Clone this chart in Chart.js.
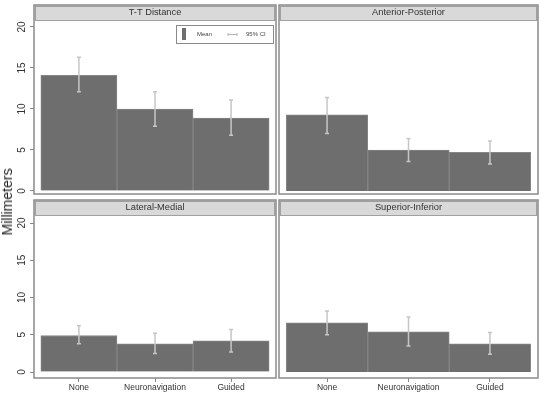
<!DOCTYPE html>
<html>
<head>
<meta charset="utf-8">
<title>Millimeters by guidance method</title>
<script src="https://cdn.jsdelivr.net/npm/chart.js@4.4.0/dist/chart.umd.min.js"></script>
<style>
  body { margin: 0; background: #fff; }
  #wrap { position: relative; width: 543px; height: 402px; overflow: hidden; background: #fff; }
  #wrap canvas { position: absolute; left: 0; top: 0; }
  #ytitle {
    position: absolute; left: 7px; top: 202px;
    transform: translate(-50%, -50%) rotate(-90deg);
    font: 14px "Liberation Sans", Arial, sans-serif; color: #222; white-space: nowrap;
  }
</style>
</head>
<body>
<div id="wrap">
  <canvas id="tl" width="543" height="402"></canvas>
  <canvas id="tr" width="543" height="402"></canvas>
  <canvas id="bl" width="543" height="402"></canvas>
  <canvas id="br" width="543" height="402"></canvas>
  <div id="ytitle">Millimeters</div>
</div>
<script>
// data
const categories = ['None', 'Neuronavigation', 'Guided'];
const panelTitles = ['T-T Distance', 'Anterior-Posterior', 'Lateral-Medial', 'Superior-Inferior'];
const ttMean = [14.1, 10.0, 8.9];
const ttLow = [12.1, 7.9, 6.8];
const ttHigh = [16.3, 12.1, 11.1];
const apMean = [9.3, 5.0, 4.7];
const apLow = [7.0, 3.6, 3.3];
const apHigh = [11.4, 6.4, 6.1];
const lmMean = [4.9, 3.8, 4.2];
const lmLow = [3.8, 2.5, 2.7];
const lmHigh = [6.2, 5.2, 5.7];
const siMean = [6.6, 5.4, 3.8];
const siLow = [5.0, 3.5, 2.4];
const siHigh = [8.2, 7.4, 5.3];
const yTicks = [0, 5, 10, 15, 20];
const legendLabels = ['Mean', '95% CI'];

const FONT = '"Liberation Sans", Arial, sans-serif';
const barColor = '#6e6e6e';
const ciColor = '#c6c6c6';
const frameColor = '#8a8a8a';
const STRIP = 16;

Chart.defaults.font.family = FONT;

// strip, frame, CI whiskers and the little legend box
const panelPlugin = {
  id: 'panel',
  beforeDraw(chart) {
    const { ctx, chartArea: a } = chart;
    ctx.save();
    ctx.fillStyle = '#d9d9d9';
    ctx.fillRect(a.left, a.top - STRIP, a.right - a.left, STRIP);
    ctx.strokeStyle = '#a0a0a0';
    ctx.lineWidth = 1;
    ctx.strokeRect(a.left + 1.5, a.top - STRIP + 1.5, a.right - a.left - 3, STRIP - 2);
    ctx.restore();
  },
  afterDatasetsDraw(chart) {
    const { ctx } = chart;
    const xs = chart.scales.x;
    const ys = chart.scales.y;
    const ds = chart.data.datasets[0];
    ctx.save();
    ctx.strokeStyle = ciColor;
    ctx.lineWidth = 1.5;
    ds.ciLow.forEach((lo, i) => {
      const x = xs.getPixelForValue(i);
      const y1 = ys.getPixelForValue(lo);
      const y2 = ys.getPixelForValue(ds.ciHigh[i]);
      ctx.beginPath();
      ctx.moveTo(x, y1); ctx.lineTo(x, y2);
      ctx.moveTo(x - 2, y1); ctx.lineTo(x + 2, y1);
      ctx.moveTo(x - 2, y2); ctx.lineTo(x + 2, y2);
      ctx.stroke();
    });
    ctx.restore();
  },
  afterDraw(chart, args, opts) {
    const { ctx, chartArea: a } = chart;
    ctx.save();
    ctx.strokeStyle = frameColor;
    ctx.lineWidth = 1.5;
    ctx.strokeRect(a.left, a.top - STRIP, a.right - a.left, a.bottom - a.top + STRIP);
    if (opts.legend) {
      const w = 97, h = 18;
      const x0 = a.right - 3 - w, y0 = a.top + 4;
      ctx.fillStyle = '#fff';
      ctx.fillRect(x0, y0, w, h);
      ctx.strokeStyle = frameColor;
      ctx.lineWidth = 1;
      ctx.strokeRect(x0 + 0.5, y0 + 0.5, w, h);
      ctx.fillStyle = barColor;
      ctx.fillRect(x0 + 6, y0 + 3, 4, 12);
      ctx.font = '6px ' + FONT;
      ctx.fillStyle = '#444';
      ctx.textBaseline = 'middle';
      ctx.fillText(legendLabels[0], x0 + 21, y0 + 9.5);
      ctx.strokeStyle = '#b5b5b5';
      ctx.beginPath();
      ctx.moveTo(x0 + 52, y0 + 9.5); ctx.lineTo(x0 + 61, y0 + 9.5);
      ctx.moveTo(x0 + 52, y0 + 8); ctx.lineTo(x0 + 52, y0 + 11);
      ctx.moveTo(x0 + 61, y0 + 8); ctx.lineTo(x0 + 61, y0 + 11);
      ctx.stroke();
      ctx.fillText(legendLabels[1], x0 + 70, y0 + 9.5);
    }
    ctx.restore();
  }
};

function makePanel(id, title, means, lows, highs, box) {
  const xScale = {
    type: 'linear',
    min: -0.59,
    max: 2.59,
    offset: false,
    display: box.showX,
    border: { display: false },
    grid: { offset: false, drawOnChartArea: false, tickLength: 4, color: '#888' },
    afterBuildTicks: s => { s.ticks = categories.map((c, i) => ({ value: i })) },
    ticks: {
      callback: v => categories[v],
      autoSkip: false,
      maxRotation: 0,
      padding: 1,
      color: '#333',
      font: { size: 8.5 }
    }
  };
  if (box.showX) xScale.afterFit = s => { s.height = 24 };

  const yScale = {
    min: box.yMin,
    max: box.yMax,
    display: box.showY,
    border: { display: false },
    grid: { drawOnChartArea: false, tickLength: 4, color: '#888' },
    afterBuildTicks: s => { s.ticks = yTicks.map(v => ({ value: v })) },
    ticks: {
      minRotation: 90,
      maxRotation: 90,
      crossAlign: 'center',
      padding: 2.5,
      color: '#333',
      font: { size: 10 }
    }
  };
  if (box.showY) yScale.afterFit = s => { s.width = 34 };

  new Chart(document.getElementById(id), {
    type: 'bar',
    data: {
      datasets: [{
        label: legendLabels[0],
        data: means.map((v, i) => ({ x: i, y: v })),
        ciLow: lows,
        ciHigh: highs,
        backgroundColor: barColor,
        borderColor: '#858585',
        borderWidth: 1,
        barPercentage: 1,
        categoryPercentage: 1
      }]
    },
    options: {
      responsive: false,
      animation: false,
      events: [],
      layout: { padding: box.pad },
      plugins: {
        legend: { display: false },
        tooltip: { enabled: false },
        title: {
          display: true,
          text: title,
          fullSize: false,
          color: '#333',
          font: { size: 9.3, weight: 'normal', lineHeight: 1.2 },
          padding: { top: 2, bottom: 2.84 }
        },
        panel: { legend: !!box.legend }
      },
      scales: { x: xScale, y: yScale }
    },
    plugins: [panelPlugin]
  });
}

makePanel('tl', panelTitles[0], ttMean, ttLow, ttHigh, {
  showX: false, showY: true, legend: true, yMin: -0.37, yMax: 20.73,
  pad: { left: 0, right: 267, top: 5, bottom: 208 }
});
makePanel('tr', panelTitles[1], apMean, apLow, apHigh, {
  showX: false, showY: false, yMin: -0.37, yMax: 20.73,
  pad: { left: 279, right: 5, top: 5, bottom: 208 }
});
makePanel('bl', panelTitles[2], lmMean, lmLow, lmHigh, {
  showX: true, showY: true, yMin: -0.8, yMax: 20.94,
  pad: { left: 0, right: 267, top: 200, bottom: 0 }
});
makePanel('br', panelTitles[3], siMean, siLow, siHigh, {
  showX: true, showY: false, yMin: -0.8, yMax: 20.94,
  pad: { left: 279, right: 5, top: 200, bottom: 0 }
});
</script>
</body>
</html>
